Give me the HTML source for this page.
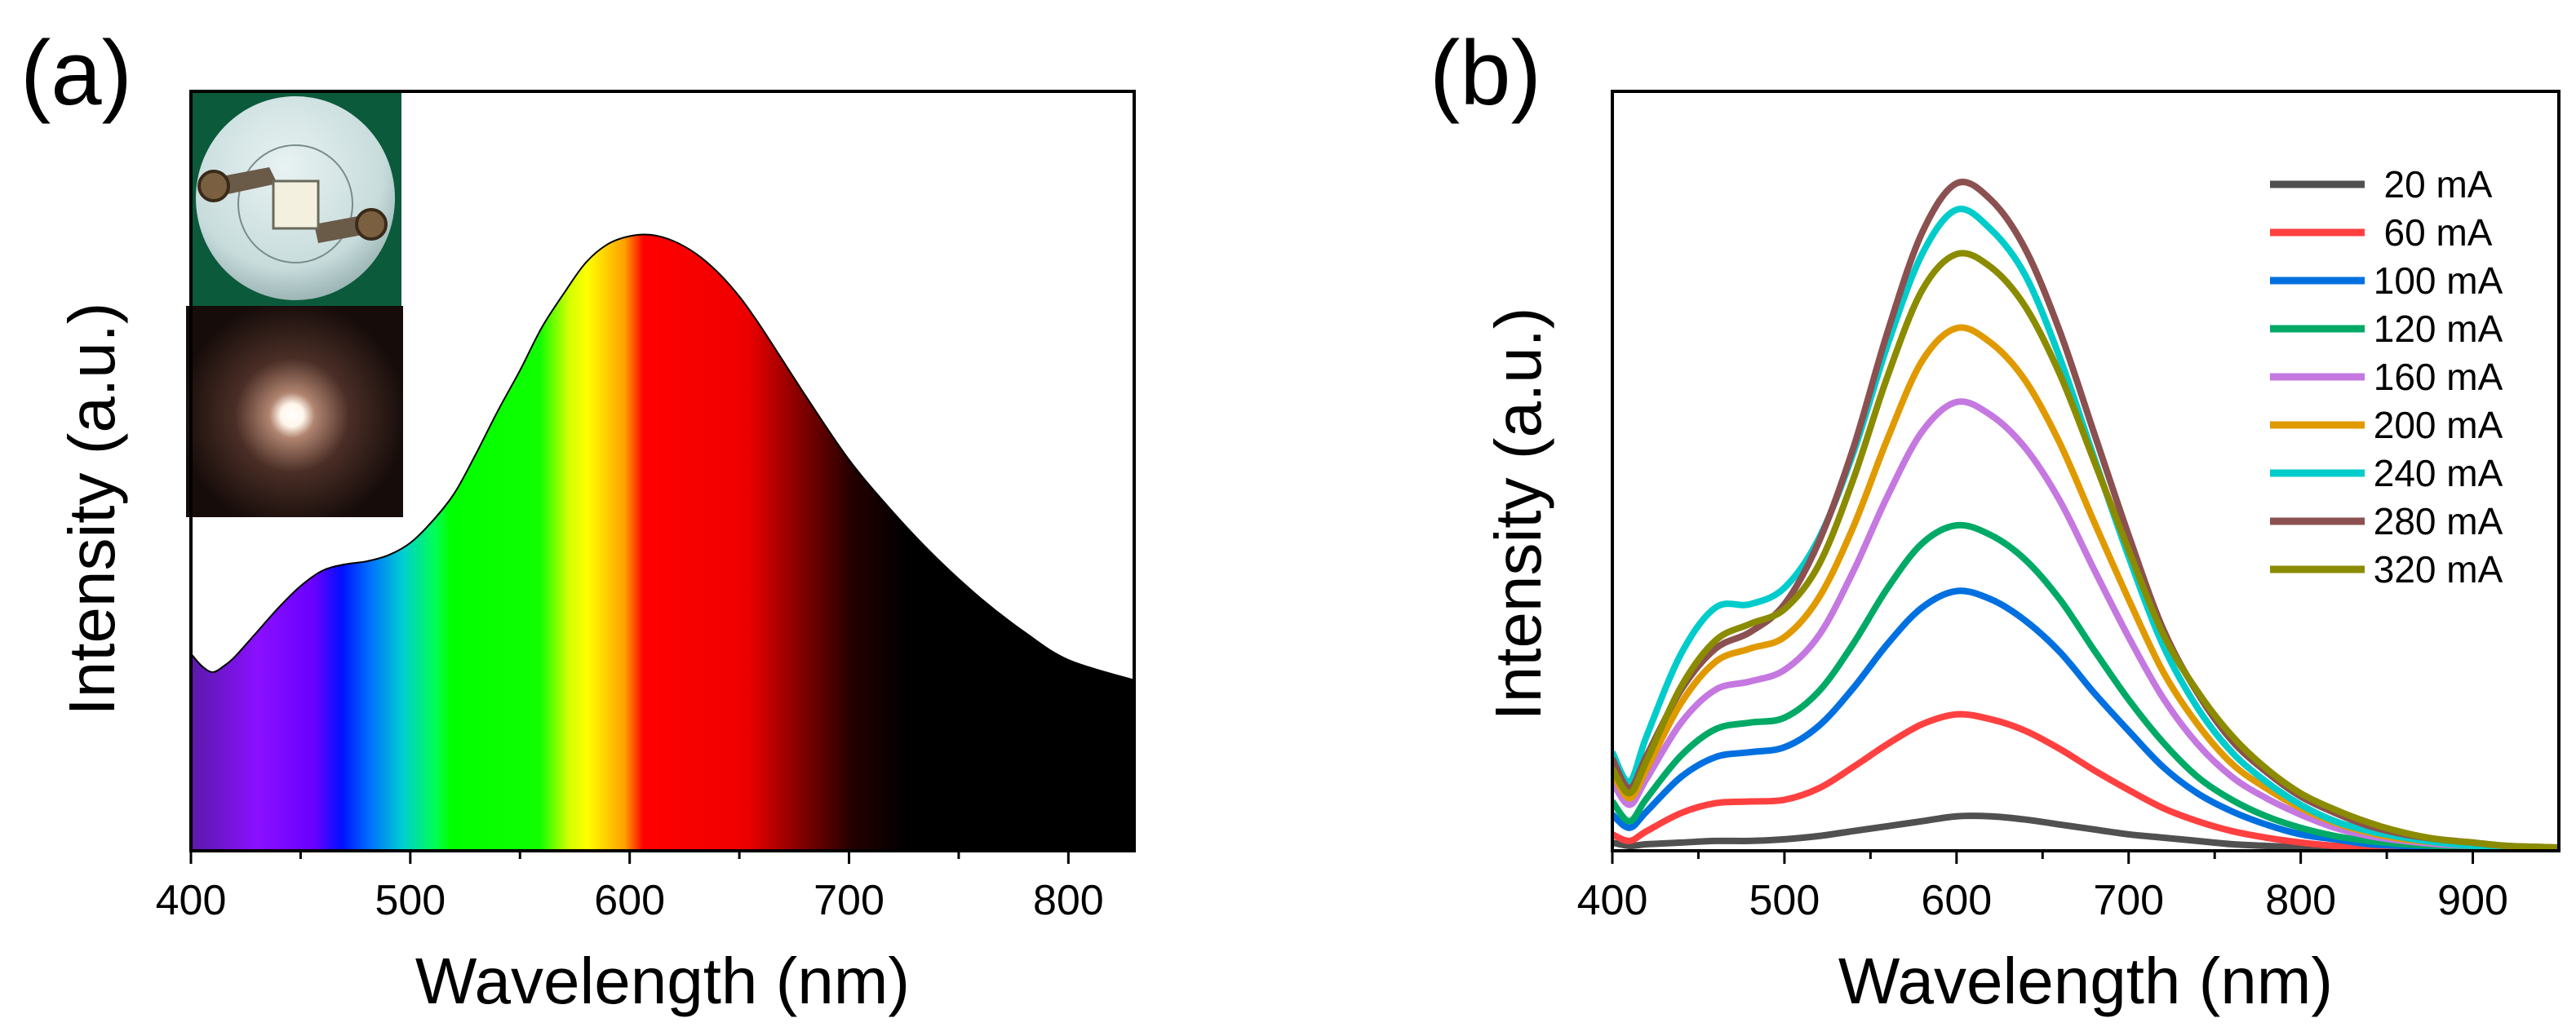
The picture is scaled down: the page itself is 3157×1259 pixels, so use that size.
<!DOCTYPE html>
<html><head><meta charset="utf-8"><style>
html,body{margin:0;padding:0;background:#fff;}
svg{display:block;font-family:"Liberation Sans",Arial,sans-serif;}
</style></head><body>
<svg id="fig" width="3157" height="1259" viewBox="0 0 3157 1259" xmlns="http://www.w3.org/2000/svg">
<defs>
<linearGradient id="spec" gradientUnits="userSpaceOnUse" x1="234" y1="0" x2="1390" y2="0">
<stop offset="0" stop-color="#5a1aa8"/>
<stop offset="0.07" stop-color="#8a10ff"/>
<stop offset="0.13" stop-color="#6a00ff"/>
<stop offset="0.16" stop-color="#0010ff"/>
<stop offset="0.19" stop-color="#0070ff"/>
<stop offset="0.225" stop-color="#00d0d0"/>
<stop offset="0.26" stop-color="#00ff50"/>
<stop offset="0.275" stop-color="#00ff00"/>
<stop offset="0.37" stop-color="#10ff00"/>
<stop offset="0.40" stop-color="#d0ff00"/>
<stop offset="0.42" stop-color="#ffff00"/>
<stop offset="0.46" stop-color="#ffa000"/>
<stop offset="0.48" stop-color="#ff0000"/>
<stop offset="0.59" stop-color="#ee0000"/>
<stop offset="0.63" stop-color="#a00000"/>
<stop offset="0.70" stop-color="#250000"/>
<stop offset="0.76" stop-color="#000000"/>
<stop offset="1" stop-color="#000000"/>
</linearGradient>
<radialGradient id="glow" cx="358" cy="509" r="140" gradientUnits="userSpaceOnUse">
<stop offset="0" stop-color="#ffffff"/>
<stop offset="0.1" stop-color="#fff6ea"/>
<stop offset="0.2" stop-color="#b08470"/>
<stop offset="0.5" stop-color="#4a2e26"/>
<stop offset="1" stop-color="#160c0a"/>
</radialGradient>
<radialGradient id="plate" cx="0.45" cy="0.35" r="0.7">
<stop offset="0" stop-color="#e8f2f2"/>
<stop offset="0.7" stop-color="#c8dcdc"/>
<stop offset="1" stop-color="#90aaaa"/>
</radialGradient>
</defs>

<text x="25" y="128" font-size="112">(a)</text>
<text x="1752" y="128" font-size="112">(b)</text>

<g id="panelA"></g>
<g id="panelB"></g>
</svg>
<script>
// ---------- Panel (a) data ----------
const specWl = [400,405,410,415,420,430,440,450,460,470,480,490,500,510,520,530,540,550,560,570,580,590,600,610,620,630,640,650,660,680,700,720,740,760,780,800,830];
const specVal = [0.32,0.30,0.29,0.30,0.315,0.355,0.395,0.43,0.455,0.465,0.47,0.48,0.50,0.535,0.58,0.645,0.715,0.78,0.85,0.905,0.955,0.985,0.998,1.0,0.99,0.97,0.94,0.90,0.85,0.74,0.635,0.55,0.475,0.41,0.355,0.31,0.277];
const aTicks = [400,500,600,700,800];
const aMinor = [450,550,650,750];

// ---------- Panel (b) data ----------
const wl = [400,410,420,440,460,480,500,520,540,560,580,600,620,640,660,680,700,720,740,760,780,800,820,840,860,880,900,920,950];
const currents = ["20 mA","60 mA","100 mA","120 mA","160 mA","200 mA","240 mA","280 mA","320 mA"];
const colors = ["#505050","#ff4040","#0070e0","#00aa66","#c478e0","#e09a00","#00cccc","#8b5050","#8b8b00"];
const s20  = [5,3,4,5,6,6,7,9,12,15,18,21,21,19,16,13,10,8,6,4,3,2,1,1,0,0,0,0,0];
const s60  = [10,6,12,23,29,30,31,38,51,65,77,83,80,73,62,49,37,26,18,12,8,5,3,2,1,1,0,0,0];
const s100 = [22,14,24,45,57,60,63,76,99,126,148,158,153,140,121,96,73,51,35,24,16,10,7,4,3,2,1,1,0];
const s120 = [30,18,32,58,74,78,81,97,126,160,187,198,192,177,153,122,92,66,45,31,21,14,9,6,4,3,2,1,1];
const s160 = [42,28,44,78,98,103,110,131,170,216,255,273,265,245,213,171,130,93,65,45,32,22,14,9,6,4,3,2,1];
const s200 = [48,32,50,90,115,123,130,154,197,251,298,318,309,286,248,200,153,109,77,53,38,26,17,11,7,5,3,2,1];
const s240 = [60,42,70,120,148,150,160,190,242,308,363,390,378,350,300,239,179,125,87,60,42,28,18,12,8,5,3,2,1];
const s280 = [56,38,58,98,123,133,150,188,245,316,376,406,396,366,316,254,192,135,96,67,48,33,23,15,10,7,5,3,2];
const s320 = [50,35,55,100,128,138,147,174,226,289,341,363,355,331,290,237,183,132,97,70,50,35,25,17,11,7,5,3,2];
const series = [s20,s60,s100,s120,s160,s200,s240,s280,s320];
const bTicks = [400,500,600,700,800,900];
const bMinor = [450,550,650,750,850];

const NS = "http://www.w3.org/2000/svg";
function mk(tag, attrs, parent){
  const e = document.createElementNS(NS, tag);
  for (const k in attrs) e.setAttribute(k, attrs[k]);
  parent.appendChild(e);
  return e;
}
function smooth(pts){
  let d = "M" + pts[0][0].toFixed(1) + "," + pts[0][1].toFixed(1);
  for (let i = 0; i < pts.length - 1; i++){
    const p0 = pts[Math.max(0,i-1)], p1 = pts[i], p2 = pts[i+1], p3 = pts[Math.min(pts.length-1,i+2)];
    const c1x = p1[0] + (p2[0]-p0[0])/6, c1y = p1[1] + (p2[1]-p0[1])/6;
    const c2x = p2[0] - (p3[0]-p1[0])/6, c2y = p2[1] - (p3[1]-p1[1])/6;
    d += " C" + c1x.toFixed(1)+","+c1y.toFixed(1)+" "+c2x.toFixed(1)+","+c2y.toFixed(1)+" "+p2[0].toFixed(1)+","+p2[1].toFixed(1);
  }
  return d;
}

// ---------- Panel (a) ----------
const A = {L:234, R:1390, T:112, B:1043};
const ax = w => A.L + (w - 400) * (A.R - A.L) / 430;
const ay = v => A.B - v * (A.B - 288);
const ga = document.getElementById('panelA');

const ptsA = specWl.map((w,i)=>[ax(w), ay(specVal[i])]);
const curveD = smooth(ptsA);
const fill = mk('path', {d: curveD + " L" + A.R + "," + A.B + " L" + A.L + "," + A.B + " Z", fill:"url(#spec)"}, ga);


const edge = mk('path', {d: curveD, fill:"none", stroke:"#000", "stroke-width":"2"}, ga);



// inset photos
const photo1 = mk('g', {}, ga);


mk('rect', {x:232, y:112, width:260, height:263, fill:"#0b5a3c"}, photo1);
mk('ellipse', {cx:362, cy:243, rx:122, ry:125, fill:"url(#plate)"}, photo1);
mk('ellipse', {cx:362, cy:250, rx:70, ry:72, fill:"none", stroke:"#7a8c8c", "stroke-width":"2"}, photo1);
mk('path', {d:"M262,218 L330,205 L340,225 L270,240 Z", fill:"#6a5a48"}, photo1);
mk('path', {d:"M385,275 L455,262 L460,285 L390,298 Z", fill:"#6a5a48"}, photo1);
mk('circle', {cx:262, cy:228, r:18, fill:"#7a6040", stroke:"#3a2a1a", "stroke-width":"4"}, photo1);
mk('circle', {cx:455, cy:275, r:18, fill:"#7a6040", stroke:"#3a2a1a", "stroke-width":"4"}, photo1);
mk('rect', {x:335, y:222, width:55, height:58, fill:"#f4f0e0", stroke:"#6a6a5a", "stroke-width":"3"}, photo1);
const photo2 = mk('rect', {x:228, y:375, width:266, height:259, fill:"url(#glow)"}, ga);



const frameA = mk('rect', {x:A.L, y:A.T, width:A.R-A.L, height:A.B-A.T, fill:"none", stroke:"#000", "stroke-width":"4"}, ga);



aTicks.forEach(t=>{
  const tk = mk('line', {x1:ax(t), x2:ax(t), y1:A.B, y2:A.B+16, stroke:"#000", "stroke-width":"3"}, ga);
  
  
  const lb = mk('text', {x:ax(t), y:1121, "font-size":"52", "text-anchor":"middle"}, ga);
  lb.textContent = t;
  
  
});
aMinor.forEach(t=>{
  const tk = mk('line', {x1:ax(t), x2:ax(t), y1:A.B, y2:A.B+10, stroke:"#000", "stroke-width":"3"}, ga);
  
  
});
const xtA = mk('text', {x:812, y:1230, "font-size":"80", "text-anchor":"middle"}, ga);
xtA.textContent = "Wavelength (nm)";


const ytA = mk('text', {x:0, y:0, "font-size":"80", "text-anchor":"middle", transform:"translate(140,624) rotate(-90)"}, ga);
ytA.textContent = "Intensity (a.u.)";



// ---------- Panel (b) ----------
const B = {L:1976, R:3136, T:112, B:1043};
const bx = w => B.L + (w - 400) * (B.R - B.L) / 550;
const by = v => B.B - v * (B.B - B.T) / 462;
const gb = document.getElementById('panelB');

const clipB = mk('clipPath', {id:"clipB"}, gb);
mk('rect', {x:B.L, y:B.T, width:B.R-B.L, height:B.B-B.T}, clipB);
const lines = mk('g', {"clip-path":"url(#clipB)"}, gb);
series.forEach((s,i)=>{
  const p = mk('path', {d: smooth(wl.map((w,j)=>[bx(w), by(s[j])])), fill:"none", stroke:colors[i], "stroke-width":"8", "stroke-linejoin":"round"}, lines);
  
  
});

const frameB = mk('rect', {x:B.L, y:B.T, width:B.R-B.L, height:B.B-B.T, fill:"none", stroke:"#000", "stroke-width":"4"}, gb);



bTicks.forEach(t=>{
  const tk = mk('line', {x1:bx(t), x2:bx(t), y1:B.B, y2:B.B+16, stroke:"#000", "stroke-width":"3"}, gb);
  
  
  const lb = mk('text', {x:bx(t), y:1121, "font-size":"52", "text-anchor":"middle"}, gb);
  lb.textContent = t;
  
  
});
bMinor.forEach(t=>{
  const tk = mk('line', {x1:bx(t), x2:bx(t), y1:B.B, y2:B.B+10, stroke:"#000", "stroke-width":"3"}, gb);
  
  
});
const xtB = mk('text', {x:2556, y:1230, "font-size":"80", "text-anchor":"middle"}, gb);
xtB.textContent = "Wavelength (nm)";


const ytB = mk('text', {x:0, y:0, "font-size":"80", "text-anchor":"middle", transform:"translate(1888,630) rotate(-90)"}, gb);
ytB.textContent = "Intensity (a.u.)";



// legend
const leg = mk('g', {}, gb);


currents.forEach((c,i)=>{
  const y = 226 + i*59;
  const ln = mk('line', {x1:2782, x2:2898, y1:y, y2:y, stroke:colors[i], "stroke-width":"9"}, leg);
  
  
  const tx = mk('text', {x:2988, y:y+16, "font-size":"46", "text-anchor":"middle"}, leg);
  tx.textContent = c;
  
  
});
</script>
</body></html>
